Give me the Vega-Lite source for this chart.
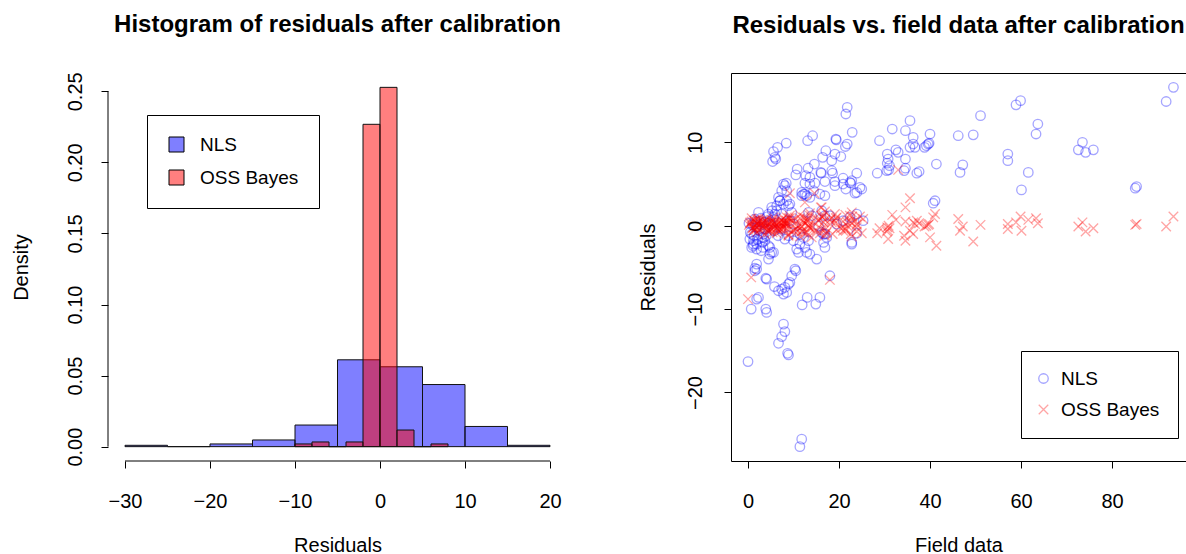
{
  "$schema": "https://vega.github.io/schema/vega-lite/v6.json",
  "padding": {"left": 11, "top": 12, "right": 0, "bottom": 0},
  "spacing": 70,
  "config": {
    "font": "Liberation Sans",
    "view": {"stroke": "black", "strokeWidth": 1},
    "axis": {"grid": false, "domain": false, "tickColor": "black", "tickSize": 7, "tickWidth": 1, "labelColor": "black", "titleColor": "black", "labelFontSize": 20, "titleFontSize": 20, "titleFontWeight": "normal", "labelFlush": false, "labelOverlap": false, "labelFont": "Liberation Sans", "titleFont": "Liberation Sans"},
    "axisX": {"labelPadding": 23, "titlePadding": 24},
    "legend": {"labelFont": "Liberation Sans", "labelFontSize": 19, "labelColor": "black"},
    "title": {"font": "Liberation Sans", "fontSize": 24, "fontWeight": "bold", "anchor": "middle", "offset": 35, "color": "black"}
  },
  "datasets": {
    "hist": [
      {"method": "NLS", "start": -30, "end": -25, "density": 0.00094},
      {"method": "NLS", "start": -25, "end": -20, "density": 0},
      {"method": "NLS", "start": -20, "end": -15, "density": 0.0019},
      {"method": "NLS", "start": -15, "end": -10, "density": 0.0047},
      {"method": "NLS", "start": -10, "end": -5, "density": 0.0152},
      {"method": "NLS", "start": -5, "end": 0, "density": 0.0611},
      {"method": "NLS", "start": 0, "end": 5, "density": 0.0562},
      {"method": "NLS", "start": 5, "end": 10, "density": 0.0437},
      {"method": "NLS", "start": 10, "end": 15, "density": 0.0142},
      {"method": "NLS", "start": 15, "end": 20, "density": 0.00094},
      {"method": "OSS Bayes", "start": -10, "end": -8, "density": 0.0019},
      {"method": "OSS Bayes", "start": -8, "end": -6, "density": 0.0033},
      {"method": "OSS Bayes", "start": -6, "end": -4, "density": 0},
      {"method": "OSS Bayes", "start": -4, "end": -2, "density": 0.0033},
      {"method": "OSS Bayes", "start": -2, "end": 0, "density": 0.2268},
      {"method": "OSS Bayes", "start": 0, "end": 2, "density": 0.2528},
      {"method": "OSS Bayes", "start": 2, "end": 4, "density": 0.0117},
      {"method": "OSS Bayes", "start": 4, "end": 6, "density": 0},
      {"method": "OSS Bayes", "start": 6, "end": 8, "density": 0.0019}
    ],
    "scatter": [
      {"x": 93.5, "NLS": 16.6, "OSS Bayes": 1.1},
      {"x": 91.9, "NLS": 14.9, "OSS Bayes": -0.1},
      {"x": 85.1, "NLS": 4.5, "OSS Bayes": 0.1},
      {"x": 85.4, "NLS": 4.7, "OSS Bayes": 0.2},
      {"x": 72.6, "NLS": 9.1, "OSS Bayes": -0.1},
      {"x": 73.5, "NLS": 10.0, "OSS Bayes": 0.4},
      {"x": 74.2, "NLS": 8.8, "OSS Bayes": -0.7},
      {"x": 75.9, "NLS": 9.1, "OSS Bayes": -0.3},
      {"x": 58.9, "NLS": 14.5, "OSS Bayes": 0.4},
      {"x": 59.9, "NLS": 15.0, "OSS Bayes": 1.1},
      {"x": 63.7, "NLS": 12.2, "OSS Bayes": 0.3},
      {"x": 63.3, "NLS": 11.0, "OSS Bayes": 0.9},
      {"x": 61.6, "NLS": 6.4, "OSS Bayes": 0.7},
      {"x": 60.1, "NLS": 4.3, "OSS Bayes": -0.6},
      {"x": 57.1, "NLS": 8.6, "OSS Bayes": 0.2},
      {"x": 57.1, "NLS": 7.8, "OSS Bayes": -0.4},
      {"x": 51.1, "NLS": 13.2, "OSS Bayes": 0.1},
      {"x": 49.5, "NLS": 10.9, "OSS Bayes": -1.9},
      {"x": 46.2, "NLS": 10.8, "OSS Bayes": 0.8},
      {"x": 47.2, "NLS": 7.3, "OSS Bayes": -0.1},
      {"x": 46.6, "NLS": 6.4, "OSS Bayes": -0.6},
      {"x": 41.4, "NLS": 7.4, "OSS Bayes": -2.4},
      {"x": 41.1, "NLS": 3.0, "OSS Bayes": 1.4},
      {"x": 40.7, "NLS": 2.7, "OSS Bayes": 1.0},
      {"x": 40.0, "NLS": 11.0, "OSS Bayes": -1.4},
      {"x": 39.6, "NLS": 9.8, "OSS Bayes": 0.1},
      {"x": 39.2, "NLS": 9.6, "OSS Bayes": 0.0},
      {"x": 38.8, "NLS": 9.4, "OSS Bayes": -0.1},
      {"x": 39.8, "NLS": 9.9, "OSS Bayes": 0.2},
      {"x": 37.1, "NLS": 6.3, "OSS Bayes": 0.6},
      {"x": 37.6, "NLS": 6.5, "OSS Bayes": 0.3},
      {"x": 35.6, "NLS": 12.6, "OSS Bayes": 3.3},
      {"x": 34.6, "NLS": 11.4, "OSS Bayes": 2.2},
      {"x": 36.3, "NLS": 10.6, "OSS Bayes": 0.4},
      {"x": 36.7, "NLS": 9.4, "OSS Bayes": 0.2},
      {"x": 35.6, "NLS": 9.4, "OSS Bayes": -0.6},
      {"x": 36.3, "NLS": 9.8, "OSS Bayes": -1.0},
      {"x": 34.6, "NLS": 8.0, "OSS Bayes": 0.5},
      {"x": 34.6, "NLS": 6.9, "OSS Bayes": -1.8},
      {"x": 34.3, "NLS": 6.6, "OSS Bayes": -1.2},
      {"x": 31.7, "NLS": 11.6, "OSS Bayes": 1.3},
      {"x": 28.9, "NLS": 10.2, "OSS Bayes": -0.3},
      {"x": 30.6, "NLS": 8.6, "OSS Bayes": -0.5},
      {"x": 30.8, "NLS": 8.0, "OSS Bayes": -1.6},
      {"x": 32.5, "NLS": 9.1, "OSS Bayes": 0.7},
      {"x": 33.0, "NLS": 8.8, "OSS Bayes": 6.7},
      {"x": 30.6, "NLS": 7.5, "OSS Bayes": -0.2},
      {"x": 31.1, "NLS": 7.2, "OSS Bayes": -0.3},
      {"x": 30.5, "NLS": 6.6, "OSS Bayes": -0.7},
      {"x": 30.9, "NLS": 6.7, "OSS Bayes": 0.0},
      {"x": 28.4, "NLS": 6.3, "OSS Bayes": -0.9},
      {"x": 21.8, "NLS": 14.2, "OSS Bayes": 0.4},
      {"x": 21.5, "NLS": 13.4, "OSS Bayes": -0.6},
      {"x": 22.9, "NLS": 11.2, "OSS Bayes": 1.1},
      {"x": 8.4, "NLS": 9.9, "OSS Bayes": 0.3},
      {"x": 14.2, "NLS": 10.8, "OSS Bayes": -0.2},
      {"x": 13.1, "NLS": 10.2, "OSS Bayes": 0.7},
      {"x": 6.5, "NLS": 9.4, "OSS Bayes": -0.4},
      {"x": 5.6, "NLS": 8.9, "OSS Bayes": 0.1},
      {"x": 5.9, "NLS": 8.2, "OSS Bayes": 0.5},
      {"x": 5.4, "NLS": 7.7, "OSS Bayes": -0.8},
      {"x": 6.1, "NLS": 8.0, "OSS Bayes": 0.2},
      {"x": 19.3, "NLS": 10.4, "OSS Bayes": 0.9},
      {"x": 19.4, "NLS": 10.3, "OSS Bayes": -0.5},
      {"x": 21.8, "NLS": 9.8, "OSS Bayes": 0.0},
      {"x": 21.4, "NLS": 9.5, "OSS Bayes": 1.3},
      {"x": 17.1, "NLS": 9.0, "OSS Bayes": -0.9},
      {"x": 19.1, "NLS": 8.6, "OSS Bayes": 0.6},
      {"x": 20.4, "NLS": 8.3, "OSS Bayes": -0.3},
      {"x": 16.4, "NLS": 8.2, "OSS Bayes": 1.0},
      {"x": 18.4, "NLS": 7.8, "OSS Bayes": 0.4},
      {"x": 14.6, "NLS": 7.4, "OSS Bayes": 3.9},
      {"x": 10.8, "NLS": 6.8, "OSS Bayes": -0.7},
      {"x": 10.5, "NLS": 6.1, "OSS Bayes": 0.8},
      {"x": 13.2, "NLS": 6.9, "OSS Bayes": -1.1},
      {"x": 12.7, "NLS": 6.0, "OSS Bayes": 0.3},
      {"x": 13.6, "NLS": 5.8, "OSS Bayes": 1.2},
      {"x": 16.0, "NLS": 6.4, "OSS Bayes": 2.2},
      {"x": 16.1, "NLS": 6.3, "OSS Bayes": -0.4},
      {"x": 18.4, "NLS": 6.6, "OSS Bayes": 0.9},
      {"x": 18.6, "NLS": 6.3, "OSS Bayes": -1.0},
      {"x": 20.9, "NLS": 5.7, "OSS Bayes": 0.5},
      {"x": 22.8, "NLS": 5.4, "OSS Bayes": 1.6},
      {"x": 23.9, "NLS": 6.3, "OSS Bayes": -0.2},
      {"x": 16.9, "NLS": 5.3, "OSS Bayes": 0.7},
      {"x": 19.1, "NLS": 5.3, "OSS Bayes": 1.4},
      {"x": 14.7, "NLS": 5.1, "OSS Bayes": -0.6},
      {"x": 8.4, "NLS": 5.1, "OSS Bayes": 0.2},
      {"x": 12.5, "NLS": 5.1, "OSS Bayes": 2.8},
      {"x": 13.6, "NLS": 5.0, "OSS Bayes": -0.3},
      {"x": 8.1, "NLS": 4.8, "OSS Bayes": 0.6},
      {"x": 7.4, "NLS": 4.2, "OSS Bayes": -0.5},
      {"x": 12.2, "NLS": 3.8, "OSS Bayes": 1.0},
      {"x": 12.9, "NLS": 3.6, "OSS Bayes": -0.8},
      {"x": 14.4, "NLS": 4.2, "OSS Bayes": 0.4},
      {"x": 11.8, "NLS": 4.0, "OSS Bayes": -0.1},
      {"x": 15.8, "NLS": 3.8, "OSS Bayes": 0.8},
      {"x": 16.9, "NLS": 3.6, "OSS Bayes": -1.2},
      {"x": 19.1, "NLS": 4.8, "OSS Bayes": 0.3},
      {"x": 20.9, "NLS": 5.0, "OSS Bayes": -0.6},
      {"x": 22.4, "NLS": 5.2, "OSS Bayes": 1.2},
      {"x": 23.9, "NLS": 4.0, "OSS Bayes": 0.1},
      {"x": 25.0, "NLS": 4.4, "OSS Bayes": -0.9},
      {"x": 7.0, "NLS": 3.0, "OSS Bayes": 0.4},
      {"x": 6.3, "NLS": 2.4, "OSS Bayes": -0.3},
      {"x": 5.3, "NLS": 1.8, "OSS Bayes": 0.7},
      {"x": 5.9, "NLS": 1.4, "OSS Bayes": -0.1},
      {"x": 8.9, "NLS": 2.4, "OSS Bayes": 0.9},
      {"x": 9.6, "NLS": 1.6, "OSS Bayes": -0.7},
      {"x": 4.5, "NLS": 1.4, "OSS Bayes": 0.2},
      {"x": 5.2, "NLS": 2.2, "OSS Bayes": 0.5},
      {"x": 1.5, "NLS": 0.8, "OSS Bayes": -0.4},
      {"x": 2.3, "NLS": 1.6, "OSS Bayes": 0.8},
      {"x": 13.3, "NLS": 1.6, "OSS Bayes": 0.0},
      {"x": 14.0, "NLS": 1.2, "OSS Bayes": -1.4},
      {"x": 15.5, "NLS": 0.0, "OSS Bayes": 0.6},
      {"x": 16.2, "NLS": -0.8, "OSS Bayes": 1.1},
      {"x": 16.9, "NLS": -1.0, "OSS Bayes": -0.2},
      {"x": 0.4, "NLS": -1.6, "OSS Bayes": 0.3},
      {"x": 1.2, "NLS": -2.2, "OSS Bayes": -0.6},
      {"x": 0.8, "NLS": -2.6, "OSS Bayes": 0.9},
      {"x": 1.9, "NLS": -2.8, "OSS Bayes": 0.1},
      {"x": 3.0, "NLS": -1.4, "OSS Bayes": -0.3},
      {"x": 3.7, "NLS": -1.8, "OSS Bayes": 0.6},
      {"x": 4.5, "NLS": -2.4, "OSS Bayes": -0.8},
      {"x": 3.4, "NLS": -1.0, "OSS Bayes": 0.4},
      {"x": 4.8, "NLS": -3.4, "OSS Bayes": -0.2},
      {"x": 5.6, "NLS": -3.2, "OSS Bayes": 1.0},
      {"x": 4.5, "NLS": -4.0, "OSS Bayes": -0.5},
      {"x": 8.1, "NLS": -1.6, "OSS Bayes": 0.3},
      {"x": 8.9, "NLS": -1.2, "OSS Bayes": -1.0},
      {"x": 10.0, "NLS": -1.8, "OSS Bayes": 0.7},
      {"x": 10.7, "NLS": -2.8, "OSS Bayes": -0.4},
      {"x": 11.4, "NLS": -2.2, "OSS Bayes": 1.3},
      {"x": 11.1, "NLS": -3.2, "OSS Bayes": 0.0},
      {"x": 12.5, "NLS": -2.6, "OSS Bayes": -0.9},
      {"x": 12.9, "NLS": -3.2, "OSS Bayes": 0.5},
      {"x": 13.6, "NLS": -3.4, "OSS Bayes": 1.5},
      {"x": 15.1, "NLS": -4.0, "OSS Bayes": -0.6},
      {"x": 10.3, "NLS": -5.2, "OSS Bayes": 0.2},
      {"x": 22.8, "NLS": -2.0, "OSS Bayes": -1.3},
      {"x": 16.6, "NLS": -2.0, "OSS Bayes": 0.4},
      {"x": 16.9, "NLS": -2.6, "OSS Bayes": 1.7},
      {"x": 1.9, "NLS": -4.6, "OSS Bayes": -0.2},
      {"x": 1.5, "NLS": -5.1, "OSS Bayes": 0.6},
      {"x": 1.9, "NLS": -5.2, "OSS Bayes": 0.3},
      {"x": 1.5, "NLS": -5.4, "OSS Bayes": -0.5},
      {"x": 4.1, "NLS": -6.4, "OSS Bayes": 0.7},
      {"x": 3.9, "NLS": -6.3, "OSS Bayes": -0.1},
      {"x": 5.8, "NLS": -7.3, "OSS Bayes": 0.4},
      {"x": 6.7, "NLS": -7.8, "OSS Bayes": -0.7},
      {"x": 7.8, "NLS": -8.2, "OSS Bayes": 0.9},
      {"x": 8.5, "NLS": -8.0, "OSS Bayes": -0.3},
      {"x": 8.1, "NLS": -7.4, "OSS Bayes": 0.2},
      {"x": 8.9, "NLS": -7.0, "OSS Bayes": -1.1},
      {"x": 9.6, "NLS": -6.0, "OSS Bayes": 0.6},
      {"x": 10.5, "NLS": -5.4, "OSS Bayes": -0.4},
      {"x": 9.2, "NLS": -6.8, "OSS Bayes": 1.2},
      {"x": 7.4, "NLS": -7.6, "OSS Bayes": 0.0},
      {"x": 2.3, "NLS": -8.6, "OSS Bayes": 0.5},
      {"x": 1.9, "NLS": -8.8, "OSS Bayes": -0.8},
      {"x": 0.7, "NLS": -10.0, "OSS Bayes": -6.2},
      {"x": 3.9, "NLS": -10.0, "OSS Bayes": 0.2},
      {"x": 4.1, "NLS": -10.4, "OSS Bayes": -0.3},
      {"x": 13.0, "NLS": -8.6, "OSS Bayes": 0.8},
      {"x": 11.9, "NLS": -9.5, "OSS Bayes": -0.6},
      {"x": 14.9, "NLS": -9.4, "OSS Bayes": 1.0},
      {"x": 15.8, "NLS": -8.6, "OSS Bayes": -0.9},
      {"x": 18.0, "NLS": -6.0, "OSS Bayes": -6.5},
      {"x": 7.8, "NLS": -11.8, "OSS Bayes": 0.4},
      {"x": 8.1, "NLS": -12.7, "OSS Bayes": -0.2},
      {"x": 7.4, "NLS": -13.3, "OSS Bayes": 0.7},
      {"x": 6.7, "NLS": -14.1, "OSS Bayes": -0.5},
      {"x": 8.7, "NLS": -15.3, "OSS Bayes": 0.3},
      {"x": 8.9, "NLS": -15.5, "OSS Bayes": -1.2},
      {"x": 0.0, "NLS": -16.3, "OSS Bayes": -8.8},
      {"x": 11.4, "NLS": -26.5, "OSS Bayes": 0.9},
      {"x": 11.8, "NLS": -25.6, "OSS Bayes": -0.1},
      {"x": 23.5, "NLS": 3.9, "OSS Bayes": 0.6},
      {"x": 21.5, "NLS": 4.4, "OSS Bayes": -0.4},
      {"x": 24.6, "NLS": 4.6, "OSS Bayes": 1.1},
      {"x": 23.9, "NLS": -0.9, "OSS Bayes": 0.2},
      {"x": 22.6, "NLS": 5.1, "OSS Bayes": -1.0},
      {"x": 0.8, "NLS": -1.0, "OSS Bayes": 0.5},
      {"x": 1.2, "NLS": -1.8, "OSS Bayes": -0.2},
      {"x": 1.9, "NLS": -2.2, "OSS Bayes": 0.8},
      {"x": 3.4, "NLS": -1.4, "OSS Bayes": 0.1},
      {"x": 4.8, "NLS": -2.6, "OSS Bayes": -0.6},
      {"x": 5.2, "NLS": -3.2, "OSS Bayes": 0.4},
      {"x": 6.3, "NLS": 1.8, "OSS Bayes": -0.9},
      {"x": 7.4, "NLS": 1.4, "OSS Bayes": 0.3},
      {"x": 7.8, "NLS": 2.6, "OSS Bayes": -0.1},
      {"x": 8.5, "NLS": 3.0, "OSS Bayes": 1.0},
      {"x": 9.2, "NLS": 2.6, "OSS Bayes": 3.9},
      {"x": 7.0, "NLS": 3.0, "OSS Bayes": -0.4},
      {"x": 8.5, "NLS": 4.2, "OSS Bayes": 0.6},
      {"x": 7.8, "NLS": 5.0, "OSS Bayes": -0.3},
      {"x": 6.7, "NLS": 3.4, "OSS Bayes": 0.2},
      {"x": 11.8, "NLS": 3.6, "OSS Bayes": -0.7},
      {"x": 12.5, "NLS": 3.8, "OSS Bayes": 0.9},
      {"x": 13.6, "NLS": 3.4, "OSS Bayes": -0.2},
      {"x": 16.2, "NLS": 1.8, "OSS Bayes": 2.2},
      {"x": 16.9, "NLS": 1.2, "OSS Bayes": -0.5},
      {"x": 18.0, "NLS": 1.2, "OSS Bayes": 0.7},
      {"x": 11.4, "NLS": -1.0, "OSS Bayes": -1.3},
      {"x": 12.2, "NLS": -1.4, "OSS Bayes": 0.4},
      {"x": 13.3, "NLS": -1.8, "OSS Bayes": -0.1},
      {"x": 16.6, "NLS": -1.0, "OSS Bayes": 1.2},
      {"x": 17.3, "NLS": -1.4, "OSS Bayes": -0.8},
      {"x": 22.8, "NLS": -2.2, "OSS Bayes": 0.3},
      {"x": 1.9, "NLS": -0.2, "OSS Bayes": -0.4},
      {"x": 2.6, "NLS": 0.2, "OSS Bayes": 0.6},
      {"x": 3.7, "NLS": -0.4, "OSS Bayes": -1.0},
      {"x": 4.8, "NLS": 0.6, "OSS Bayes": 0.2},
      {"x": 5.6, "NLS": 1.0, "OSS Bayes": -0.3},
      {"x": 9.2, "NLS": 0.6, "OSS Bayes": 0.9},
      {"x": 10.0, "NLS": 0.2, "OSS Bayes": -0.6},
      {"x": 19.5, "NLS": 0.2, "OSS Bayes": 1.0},
      {"x": 20.9, "NLS": 0.6, "OSS Bayes": -0.2},
      {"x": 22.4, "NLS": 1.0, "OSS Bayes": 0.5},
      {"x": 23.9, "NLS": 1.4, "OSS Bayes": -0.7},
      {"x": 25.3, "NLS": 0.6, "OSS Bayes": 0.8},
      {"x": 0.2, "NLS": 0.3, "OSS Bayes": 0.1},
      {"x": 0.5, "NLS": -0.8, "OSS Bayes": 0.4},
      {"x": 1.0, "NLS": 0.1, "OSS Bayes": -0.3},
      {"x": 1.3, "NLS": -1.2, "OSS Bayes": 0.6},
      {"x": 1.7, "NLS": 0.5, "OSS Bayes": -0.1},
      {"x": 2.1, "NLS": -1.6, "OSS Bayes": 0.3},
      {"x": 2.5, "NLS": -0.6, "OSS Bayes": -0.5},
      {"x": 2.8, "NLS": 0.9, "OSS Bayes": 0.2},
      {"x": 3.2, "NLS": -2.0, "OSS Bayes": 0.7},
      {"x": 3.5, "NLS": 0.4, "OSS Bayes": -0.2},
      {"x": 4.0, "NLS": -1.2, "OSS Bayes": 0.5},
      {"x": 4.3, "NLS": 1.1, "OSS Bayes": -0.6},
      {"x": 2.9, "NLS": -3.0, "OSS Bayes": 0.0},
      {"x": 3.3, "NLS": -2.6, "OSS Bayes": 0.4},
      {"x": 5.0, "NLS": 0.2, "OSS Bayes": -0.4},
      {"x": 5.8, "NLS": -0.6, "OSS Bayes": 0.3},
      {"x": 6.6, "NLS": -1.2, "OSS Bayes": -0.1},
      {"x": 7.2, "NLS": -0.4, "OSS Bayes": 0.6},
      {"x": 1.1, "NLS": -2.4, "OSS Bayes": -0.2}
    ]
  },
  "hconcat": [
    {
      "width": 459,
      "height": 388,
      "view": {"stroke": null},
      "title": {"text": "Histogram of residuals after calibration"},
      "layer": [
        {
          "data": {"name": "hist"},
          "mark": {"type": "bar", "stroke": "#111111", "strokeWidth": 1},
          "encoding": {
            "x": {"field": "start", "type": "quantitative", "scale": {"domain": [-32, 22], "nice": false, "zero": false},
                  "axis": {"values": [-30, -20, -10, 0, 10, 20], "title": "Residuals"}},
            "x2": {"field": "end"},
            "y": {"field": "density", "type": "quantitative", "scale": {"domain": [-0.0101, 0.2629], "nice": false, "zero": false},
                  "axis": {"values": [0, 0.05, 0.1, 0.15, 0.2, 0.25], "format": ".2f", "title": "Density", "labelAngle": -90, "labelAlign": "center", "labelBaseline": "bottom", "labelPadding": 16, "titlePadding": 34}},
            "y2": {"datum": 0},
            "fill": {"field": "method", "type": "nominal",
                     "scale": {"domain": ["NLS", "OSS Bayes"], "range": ["rgba(0,0,255,0.5)", "rgba(255,0,0,0.5)"]},
                     "legend": {"title": null, "orient": "none", "legendX": 39, "legendY": 42, "strokeColor": "black", "padding": 20, "symbolType": "square", "symbolSize": 225, "symbolStrokeColor": "black", "symbolStrokeWidth": 1, "rowPadding": 13, "labelOffset": 14}}
          }
        },
        {
          "data": {"values": [{}]},
          "mark": {"type": "rule", "color": "black", "strokeWidth": 1},
          "encoding": {
            "x": {"datum": -30, "type": "quantitative"},
            "x2": {"datum": 20},
            "y": {"datum": -0.0101, "type": "quantitative"}
          }
        },
        {
          "data": {"values": [{}]},
          "mark": {"type": "rule", "color": "black", "strokeWidth": 1},
          "encoding": {
            "x": {"datum": -32, "type": "quantitative"},
            "y": {"datum": 0, "type": "quantitative"},
            "y2": {"datum": 0.25}
          }
        }
      ]
    },
    {
      "width": 455,
      "height": 388,
      "title": {"text": "Residuals vs. field data after calibration"},
      "data": {"name": "scatter"},
      "transform": [{"fold": ["NLS", "OSS Bayes"], "as": ["method", "residual"]}],
      "mark": {"type": "point", "filled": false, "strokeWidth": 1.3, "size": 90},
      "encoding": {
        "x": {"field": "x", "type": "quantitative", "scale": {"domain": [-3.74, 96.26], "nice": false, "zero": false},
              "axis": {"values": [0, 20, 40, 60, 80], "title": "Field data"}},
        "y": {"field": "residual", "type": "quantitative", "scale": {"domain": [-28.22, 18.32], "nice": false, "zero": false},
              "axis": {"values": [-20, -10, 0, 10], "title": "Residuals", "labelAngle": -90, "labelAlign": "center", "labelBaseline": "bottom", "labelPadding": 19, "titlePadding": 27}},
        "color": {"field": "method", "type": "nominal",
                  "scale": {"domain": ["NLS", "OSS Bayes"], "range": ["rgba(0,0,255,0.5)", "rgba(255,0,0,0.5)"]},
                  "legend": {"title": null, "orient": "none", "legendX": 290, "legendY": 278, "strokeColor": "black", "padding": 18, "rowPadding": 11, "labelOffset": 8, "symbolOffset": -5, "symbolStrokeWidth": 1.3, "symbolSize": 90, "labelExpr": "datum.label + '\u00a0\u00a0\u00a0'"}},
        "shape": {"field": "method", "type": "nominal",
                  "scale": {"domain": ["NLS", "OSS Bayes"], "range": ["circle", "M-1,-1L1,1M-1,1L1,-1"]},
                  "legend": {"title": null, "orient": "none", "legendX": 290, "legendY": 278, "strokeColor": "black", "padding": 18, "rowPadding": 11, "labelOffset": 8, "symbolOffset": -5, "symbolStrokeWidth": 1.3, "symbolSize": 90, "labelExpr": "datum.label + '\u00a0\u00a0\u00a0'"}},
        "order": {"field": "method", "type": "ordinal"}
      }
    }
  ],
  "resolve": {"scale": {"x": "independent", "y": "independent"}, "legend": {"fill": "independent", "color": "independent", "shape": "independent"}}
}
